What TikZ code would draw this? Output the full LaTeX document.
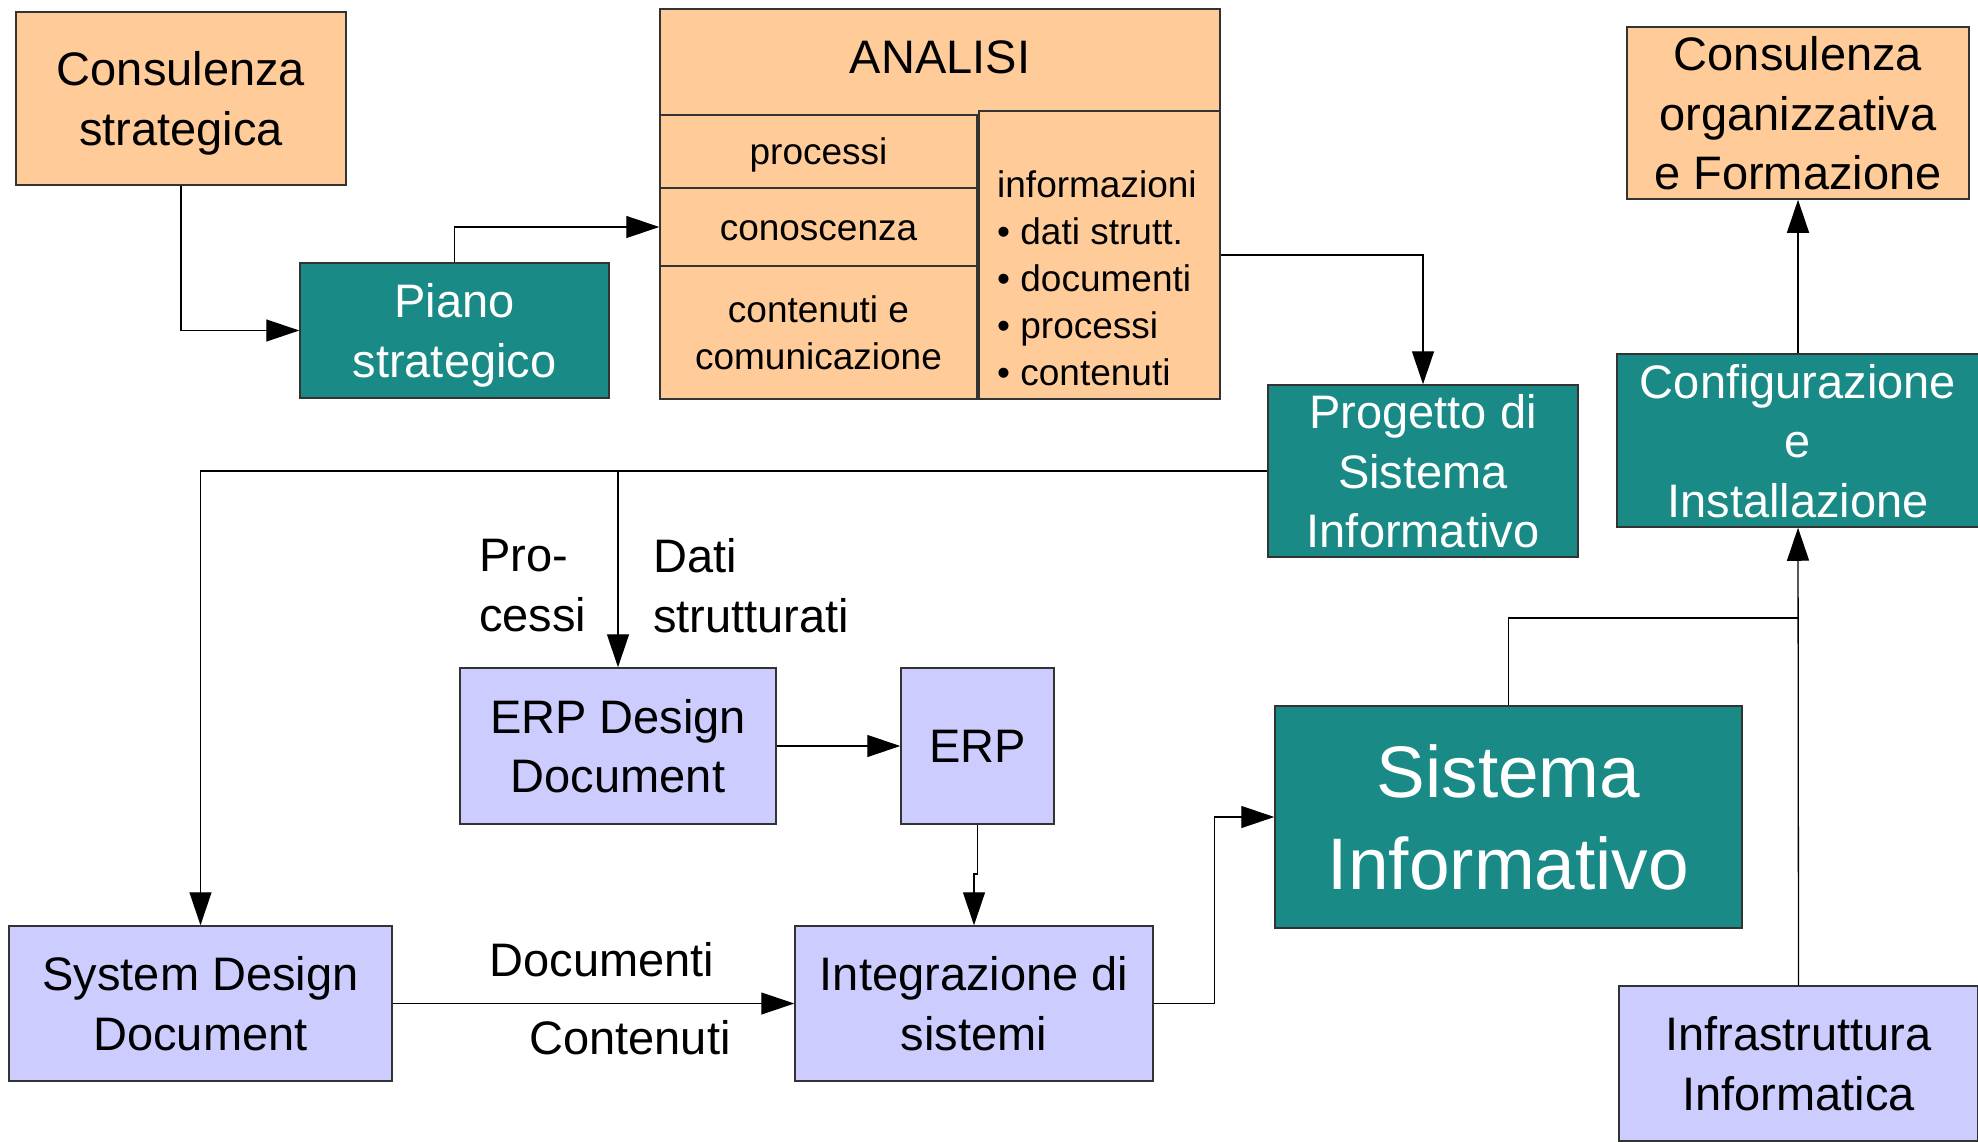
\documentclass[tikz,border=0pt]{standalone}
\usepackage{fontspec}
\setmainfont{Liberation Sans}
\usetikzlibrary{arrows.meta}
\definecolor{peach}{HTML}{FFCC99}
\definecolor{tealbox}{HTML}{1A8A87}
\definecolor{lav}{HTML}{CCCCFF}
\definecolor{edgegrey}{HTML}{333333}
\tikzset{
 box/.style={draw=edgegrey, line width=1.5pt, rectangle, inner sep=0pt, align=center, text depth=0pt, font=\fontsize{47}{59.5}\selectfont},
 peachbox/.style={box, fill=peach},
 tbox/.style={box, fill=tealbox, text=white},
 lavbox/.style={box, fill=lav},
 conn/.style={line width=1.3pt, draw=black},
 arr/.style={conn, -{Triangle[length=33pt,width=22pt]}},
 smalltxt/.style={font=\fontsize{37}{47}\selectfont},
 lbl/.style={inner sep=0pt, font=\fontsize{47}{60}\selectfont},
}
\begin{document}
\begin{tikzpicture}[x=1pt,y=-1pt]
\useasboundingbox (0,0) rectangle (1978,1142);
% top row
\node[peachbox, minimum width=330pt, minimum height=173pt] (cs) at (181,98.5) {Consulenza\\strategica};
\node[tbox, minimum width=309pt, minimum height=135pt] (piano) at (454.5,330.5) {Piano\\strategico};
\node[peachbox, minimum width=560pt, minimum height=390pt] (analisi) at (940,204) {};
\node[lbl, font=\fontsize{47}{59.5}\selectfont] (analisiT) at (940,57) {ANALISI};
\node[peachbox, smalltxt, minimum width=317pt, minimum height=73pt] (processi) at (818.5,151.5) {processi};
\node[peachbox, smalltxt, text height=27pt, minimum width=317pt, minimum height=78pt] (conoscenza) at (818.5,227) {conoscenza};
\node[peachbox, smalltxt, minimum width=317pt, minimum height=133pt] (contenuti) at (818.5,332.5) {contenuti e\\comunicazione};
\node[peachbox, minimum width=241pt, minimum height=288pt] (info) at (1099.5,255) {};
\node[smalltxt, inner sep=0pt, align=left, anchor=west] (infoT) at (997,278) {informazioni\\• dati strutt.\\• documenti\\• processi\\• contenuti};
\node[peachbox, minimum width=342pt, minimum height=172pt] (corg) at (1798,113) {Consulenza\\organizzativa\\e Formazione};
\node[tbox, minimum width=362pt, minimum height=173pt] (config) at (1798,440.5) {Configurazione\\e\\Installazione};
\node[tbox, minimum width=310pt, minimum height=172pt] (progetto) at (1423,471) {Progetto di\\Sistema\\Informativo};
% middle / bottom
\node[lavbox, minimum width=316pt, minimum height=156pt] (erpdd) at (618,746) {ERP Design\\Document};
\node[lavbox, minimum width=153pt, minimum height=156pt] (erp) at (977.5,746) {ERP};
\node[lavbox, minimum width=383pt, minimum height=155pt] (sdd) at (200.5,1003.5) {System Design\\Document};
\node[lavbox, minimum width=358pt, minimum height=155pt] (integ) at (974,1003.5) {Integrazione di\\sistemi};
\node[tbox, minimum width=467pt, minimum height=222pt, font=\fontsize{73}{92}\selectfont] (si) at (1508.5,817) {Sistema\\Informativo};
\node[lavbox, minimum width=359pt, minimum height=155pt] (infra) at (1798.5,1063.5) {Infrastruttura\\Informatica};
% labels
\node[lbl, align=left, anchor=west] (lproc) at (479,586) {Pro-\\cessi};
\node[lbl, align=left, anchor=west] (ldati) at (653,586) {Dati\\strutturati};
\node[lbl] (ldoc) at (602,960) {Documenti};
\node[lbl] (lcont) at (630,1038) {Contenuti};
% connectors
\draw[arr] (cs.south) |- (piano.west);
\draw[arr] (piano.north) |- (conoscenza.west);
\draw[arr] (info.east) -| (progetto.north);
\draw[arr] (progetto.west) -| (sdd.north);
\draw[arr] (progetto.west -| erpdd.north) -- (erpdd.north);
\draw[arr] (erpdd.east) -- (erp.west);
\draw[arr] (erp.south) -- (erp.south |- 0,874) -| (integ.north);
\draw[arr] (sdd.east) -- (integ.west);
\draw[arr] (integ.east) -- ++(61,0) |- (si.west);
\draw[conn] (si.north) |- (infra.north |- 0,618);
\draw[arr] (infra.north) -- (config.south);
\draw[arr] (config.north) -- (corg.south);
\end{tikzpicture}
\end{document}
